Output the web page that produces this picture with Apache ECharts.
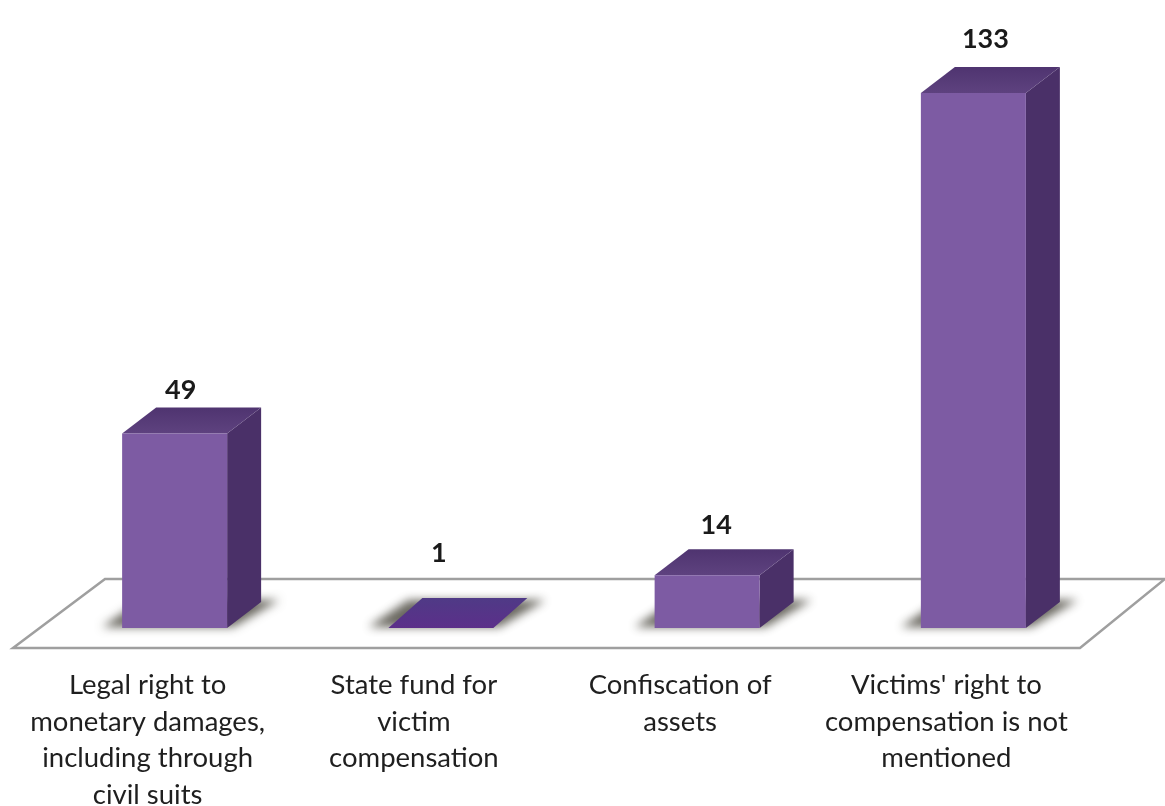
<!DOCTYPE html>
<html><head><meta charset="utf-8">
<style>html,body{margin:0;padding:0;background:#fff}#c{width:1165px;height:806px}</style>
<script src="https://cdn.jsdelivr.net/npm/echarts@6/dist/echarts.min.js"></script>
</head><body><div id="c"></div>
<script>
const categories = [
  "Legal right to\nmonetary damages,\nincluding through\ncivil suits",
  "State fund for\nvictim\ncompensation",
  "Confiscation of\nassets",
  "Victims' right to\ncompensation is not\nmentioned"
];
const values = [49, 1, 14, 133];
const labelGaps = [43, 75, 50, 54];
const labelShifts = [6, -2, 9, 12];

const DEPTH_X = 34, DEPTH_Y = 26, BAR_W = 105, OFF = 3000;
const chart = echarts.init(document.getElementById('c'), null, {renderer:'canvas'});

function renderBar(params, api) {
  const i = api.value(0), v = api.value(1);
  const base = api.coord([i, 1]);
  const top = api.coord([i, v]);
  const L = base[0] - BAR_W/2, R = base[0] + BAR_W/2, B = base[1], T = top[1];
  const flat = B - T <= 1;
  const dy = flat ? 30 : DEPTH_Y;
  const poly = (pts, fill, extra) => ({type:'polygon', shape:{points:pts}, style:Object.assign({fill}, extra||{})});
  const shadowPts = [[L-20,B-1],[R+6,B-1],[R+52,B-28],[L+20,B-28]].map(p=>[p[0]-OFF,p[1]]);
  const topFill = new echarts.graphic.LinearGradient(0,0,0,1,[
    {offset:0, color: flat ? '#4f3a86' : '#4f3470'},
    {offset:1, color: flat ? '#5c2f8a' : '#5e427f'}]);
  const children = [
    poly(shadowPts, '#4f4d45', {shadowBlur:10, shadowColor:'rgba(80,78,68,0.85)', shadowOffsetX:OFF}),
    poly([[R,B],[R+DEPTH_X,B-dy],[R+DEPTH_X,T-dy],[R,T]], '#4a3068'),
    poly([[L,T],[L+DEPTH_X,T-dy],[R+DEPTH_X,T-dy],[R,T]], topFill),
  ];
  if (!flat) children.push({type:'rect', shape:{x:L,y:T,width:BAR_W,height:B-T}, style:{fill:'#7d5ba3'}});
  children.push({type:'text', style:{
    text:String(v), x:base[0]+labelShifts[i], y:T-labelGaps[i], align:'center', verticalAlign:'middle',
    font:'bold 27px Lato', fill:'#1a1a1a'}});
  return {type:'group', children};
}

chart.setOption({
  animation:false,
  backgroundColor:'#fff',
  grid:{left:41.5, width:1065, top:64.6, height:563.4, outerBoundsMode:'none'},
  graphic:[{type:'polygon', z:0, shape:{points:[[13,648],[1080,648],[1165,579],[105,579]]},
    style:{fill:'#fff', stroke:'#9f9f9f', lineWidth:2.5}}],
  xAxis:{type:'category', data:categories, axisLine:{show:false}, axisTick:{show:false},
    axisLabel:{interval:0, margin:39, lineHeight:36.5, fontFamily:'Lato', fontSize:27.5, color:'#1f1f1f', padding:[0,54,0,0]}},
  yAxis:{type:'value', min:1, max:140, show:false, splitLine:{show:false}},
  series:[{type:'custom', z:2, renderItem:renderBar, clip:false,
    encode:{x:0,y:1}, data:values.map((v,i)=>[i,v])}]
});
</script></body></html>
